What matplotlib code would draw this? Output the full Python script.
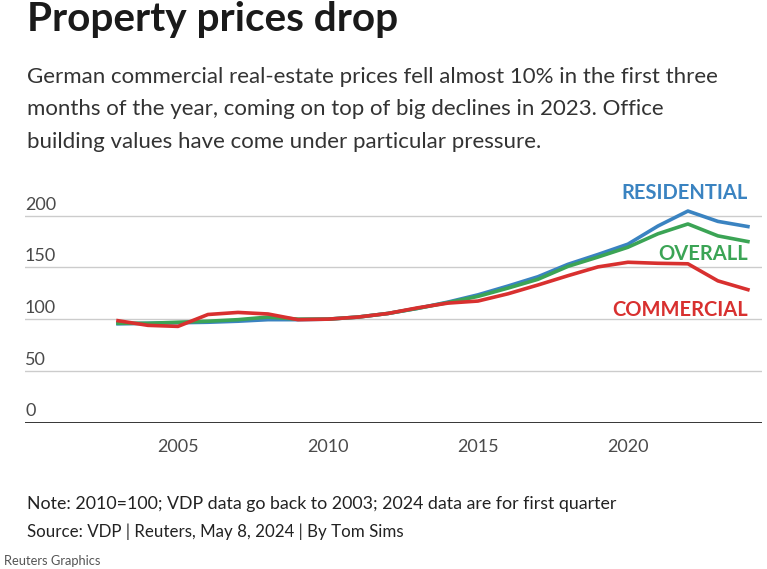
import matplotlib
matplotlib.use("Agg")
import matplotlib.pyplot as plt

years = list(range(2003, 2025))
residential = [95.5, 96, 96.5, 97, 98, 99.5, 99.5, 100, 102, 105.5, 110.5, 116.5,
               123.5, 132, 141, 153, 162.5, 172.5, 190, 204.5, 194.5, 189.5]
overall = [96, 96, 97, 98, 99.5, 102, 100, 100, 102, 105.5, 110.5, 116,
           122, 130, 138.5, 151, 160, 169.5, 182.5, 192, 180.5, 175]
commercial = [98.5, 94, 93, 104.5, 106.5, 105, 99.5, 100, 102, 105.5, 111, 115.5,
              117.5, 124.5, 133, 142, 150.5, 155, 154, 153.5, 137, 128.5]

yticks = [0, 50, 100, 150, 200]
xticks = [2005, 2010, 2015, 2020]

BLUE = "#3a83c1"
GREEN = "#3ba455"
RED = "#d8302f"
FONT = ["Lato", "DejaVu Sans"]

W, H = 767, 569
fig = plt.figure(figsize=(W / 100, H / 100), dpi=100)

# axes placed in pixel terms: x from 25 to 762, y=0 at 422.6, 1.0345 px/unit
ymax = 210
y0 = 422.6
top = y0 - ymax * 1.0345
ax = fig.add_axes([25 / W, 1 - y0 / H, 737 / W, (y0 - top) / H])
ax.set_xlim(1999.9, 2024.47)
ax.set_ylim(0, ymax)

for v in yticks[1:]:
    ax.axhline(v, color="#cccccc", lw=1, zorder=1)
ax.axhline(0, color="#222222", lw=2, zorder=3)

ax.plot(years, residential, color=BLUE, lw=2.6, zorder=4, solid_joinstyle="round")
ax.plot(years, overall, color=GREEN, lw=2.6, zorder=5, solid_joinstyle="round")
ax.plot(years, commercial, color=RED, lw=2.6, zorder=6, solid_joinstyle="round")

for s in ax.spines.values():
    s.set_visible(False)
ax.set_yticks([])
ax.set_xticks(xticks)
ax.set_xticklabels([str(x) for x in xticks], fontfamily=FONT, fontsize=13,
                   color="#4a4a4a")
ax.tick_params(axis="x", length=0, pad=12)

for v in yticks:
    ax.text(1999.9, v + 3, str(v), ha="left", va="bottom", fontsize=13,
            color="#4a4a4a", fontfamily=FONT)

ax.text(2024.0, 222, "RESIDENTIAL", color=BLUE, ha="right", va="center",
        fontsize=14.5, fontweight="bold", fontfamily=FONT, clip_on=False)
ax.text(2024.0, 163, "OVERALL", color=GREEN, ha="right", va="center",
        fontsize=14.5, fontweight="bold", fontfamily=FONT)
ax.text(2024.0, 109, "COMMERCIAL", color=RED, ha="right", va="center",
        fontsize=14.5, fontweight="bold", fontfamily=FONT)

fig.text(27 / W, 1 - 20 / H, "Property prices drop", ha="left", va="center",
         fontsize=29.2, fontweight="bold", color="#1a1a1a", fontfamily=FONT)
subtitle = ("German commercial real-estate prices fell almost 10% in the first three\n"
            "months of the year, coming on top of big declines in 2023. Office\n"
            "building values have come under particular pressure.")
fig.text(27 / W, 1 - 67 / H, subtitle, ha="left", va="top", fontsize=16,
         color="#333333", fontfamily=FONT, linespacing=1.78)

fig.text(27 / W, 1 - 504 / H,
         "Note: 2010=100; VDP data go back to 2003; 2024 data are for first quarter",
         ha="left", va="center", fontsize=12.8, color="#222222", fontfamily=FONT)
fig.text(27 / W, 1 - 532 / H, "Source: VDP | Reuters, May 8, 2024 | By Tom Sims",
         ha="left", va="center", fontsize=12.2, color="#222222", fontfamily=FONT)
fig.text(4 / W, 1 - 561 / H, "Reuters Graphics", ha="left", va="center",
         fontsize=9.3, color="#555555", fontfamily=FONT)

fig.savefig("out.png", dpi=100)
